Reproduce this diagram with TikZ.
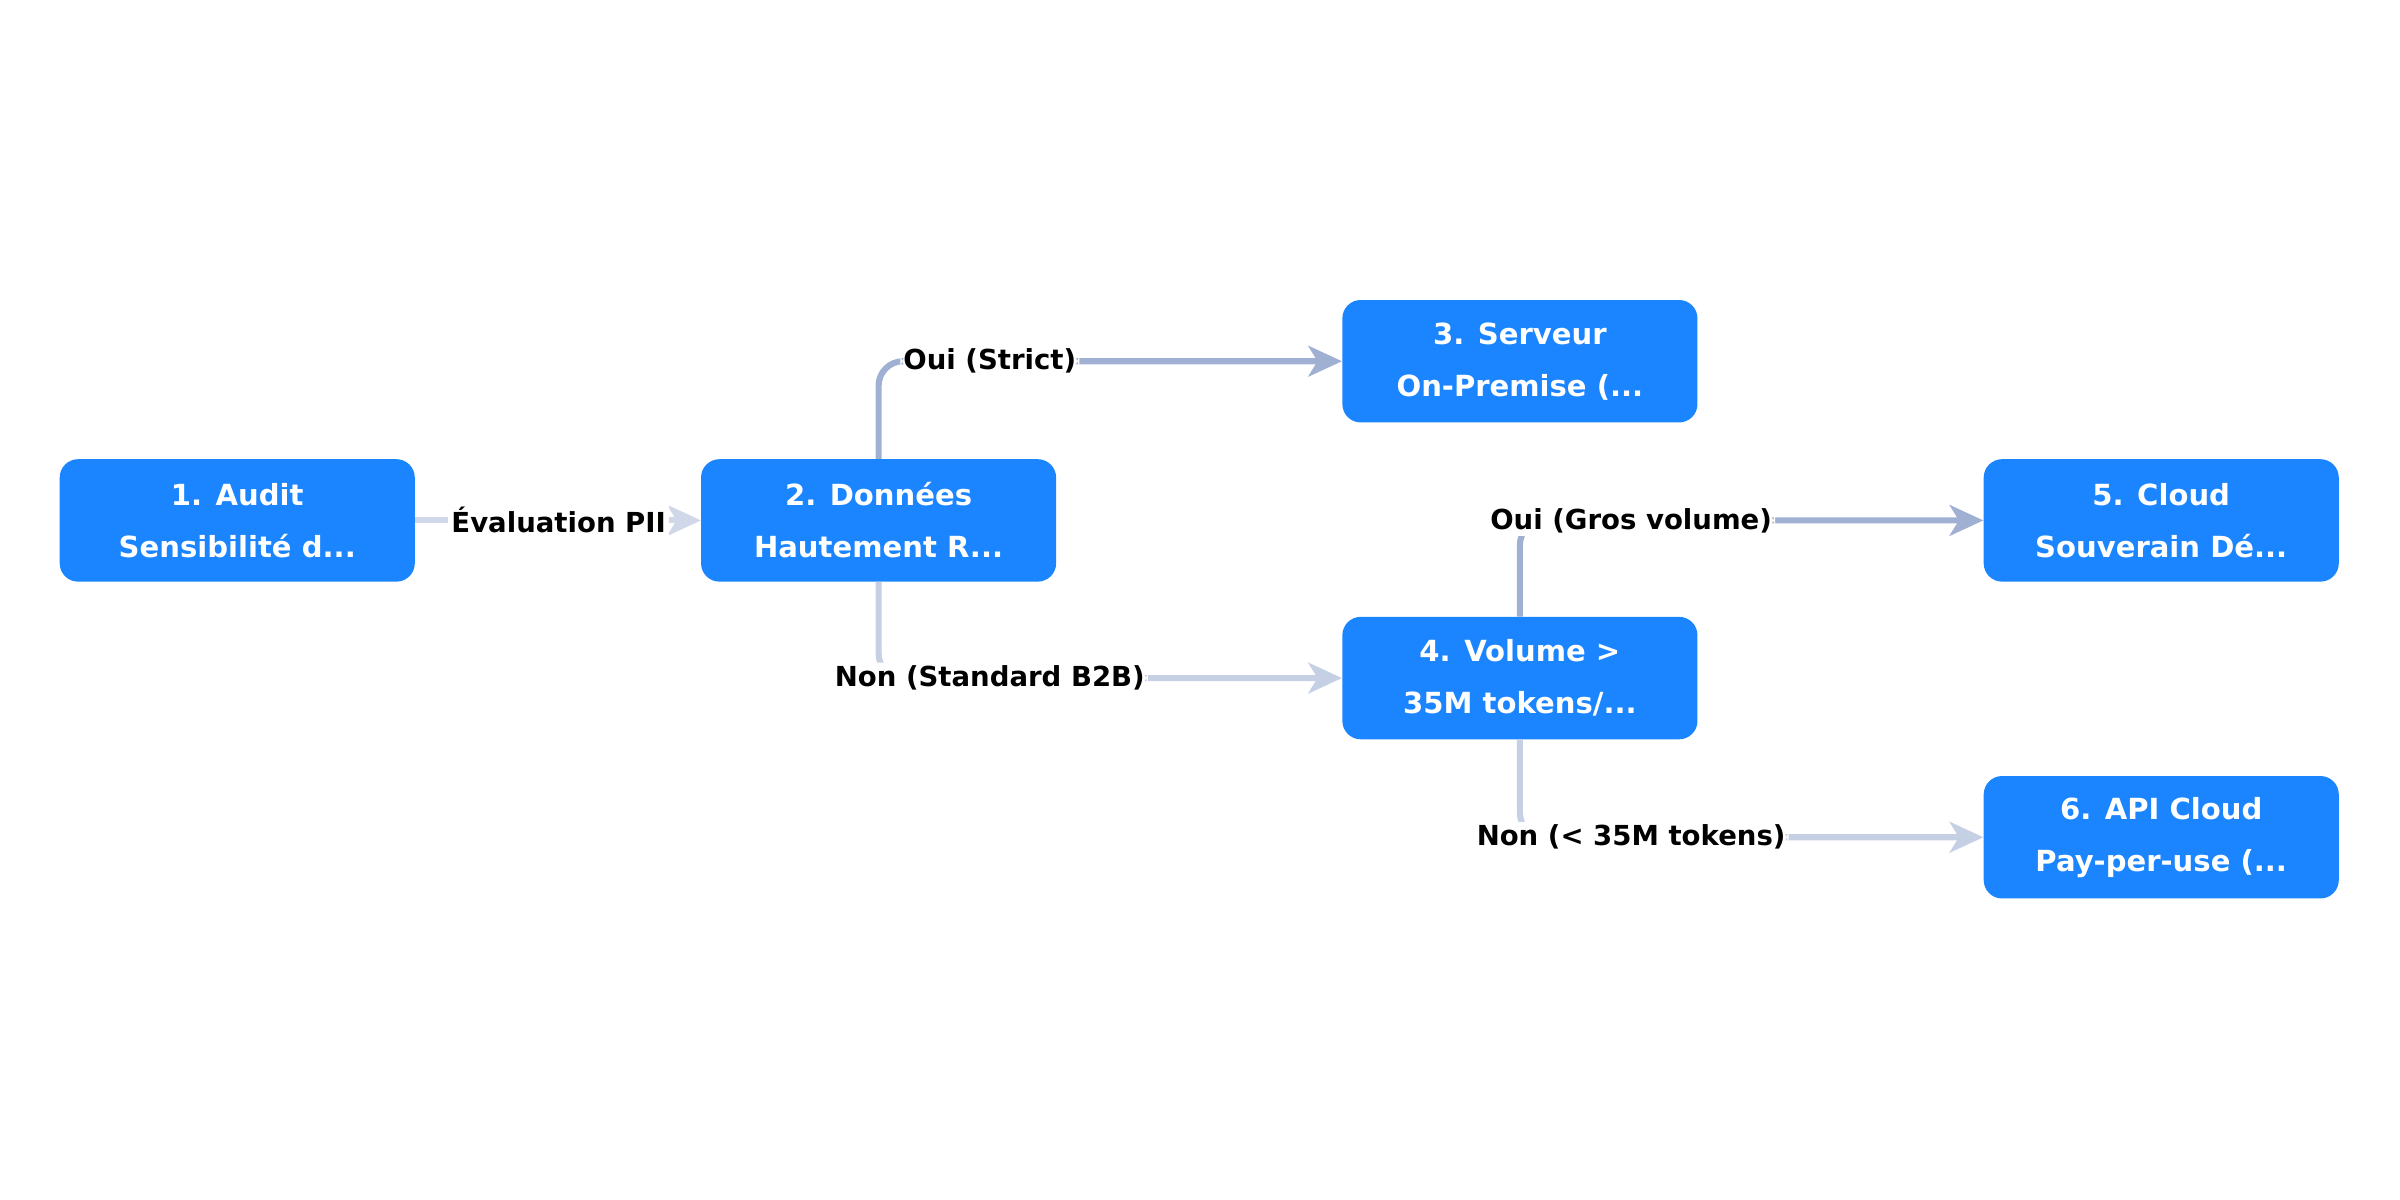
\documentclass[tikz,border=0pt]{standalone}
\usepackage{fontspec}
\setmainfont{DejaVu Sans}
\usetikzlibrary{arrows.meta}
\definecolor{nodeblue}{HTML}{1A85FF}
\definecolor{edge}{HTML}{9FB0D2}
\begin{document}
\begin{tikzpicture}[x=1pt,y=-1pt,
  box/.style={fill=nodeblue,rounded corners=12pt,minimum width=232pt,minimum height=80pt,inner sep=0pt,
    text=white,font=\bfseries\fontsize{19}{34}\selectfont,align=center},
  lbl/.style={fill=white,inner sep=2pt,font=\bfseries\fontsize{18}{20}\selectfont,text=black},
  conn/.style={draw=edge,line width=4pt,rounded corners=16pt,-{Stealth[length=22pt,width=20pt,inset=6pt]}}]
\useasboundingbox (0,0) rectangle (1568,784);
\node[box] (n1) at (155,340) {1. Audit\\Sensibilité d...};
\coordinate (c2) at (574,340);
\draw[conn,draw=edge!50] (n1.east) -- (458,340);
\node[lbl] at (365,340) {Évaluation PII};
\node[box] (n2) at (574,340) {2. Données\\Hautement R...};
\node[box] (n3) at (993,236) {3. Serveur\\On-Premise (...};
\node[box] (n4) at (993,443) {4. Volume >\\35M tokens/...};
\node[box] (n5) at (1412,340) {5. Cloud\\Souverain Dé...};
\node[box] (n6) at (1412,547) {6. API Cloud\\Pay-per-use (...};
\draw[conn] (n2.north) |- (n3.west) node[lbl,pos=0.62] {Oui (Strict)};
\draw[conn,draw=edge!60] (n2.south) |- (n4.west) node[lbl,pos=0.62] {Non (Standard B2B)};
\draw[conn] (n4.north) |- (n5.west) node[lbl,pos=0.62] {Oui (Gros volume)};
\draw[conn,draw=edge!60] (n4.south) |- (n6.west) node[lbl,pos=0.62] {Non (< 35M tokens)};
\end{tikzpicture}
\end{document}
